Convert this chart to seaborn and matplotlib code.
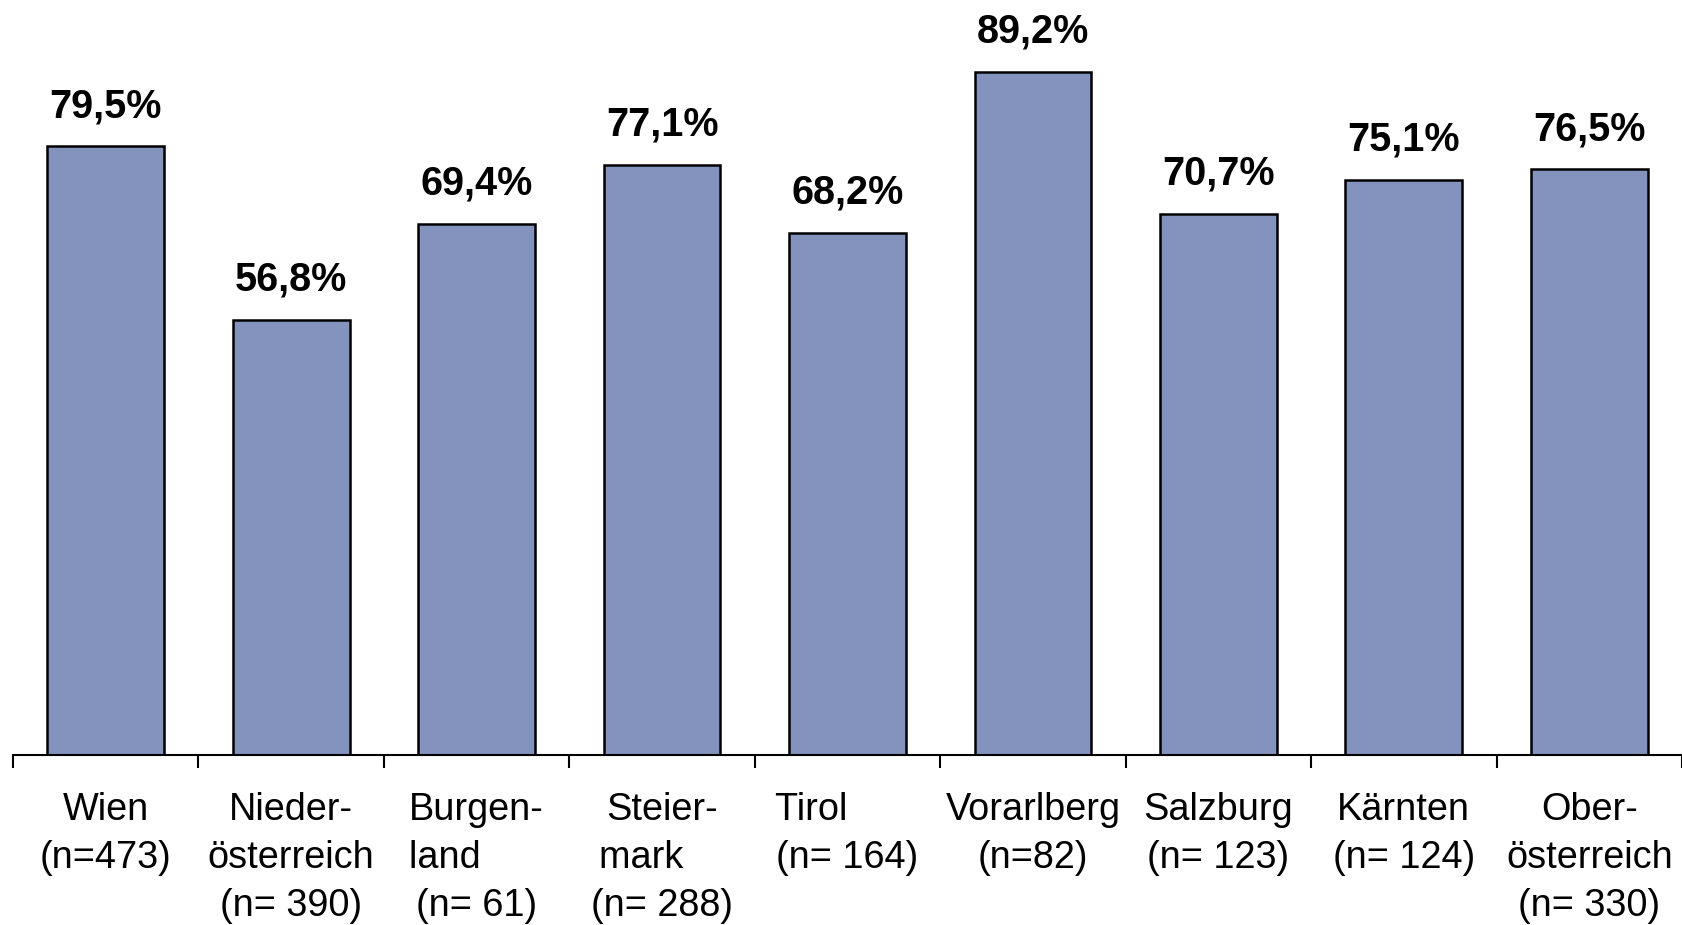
import matplotlib
matplotlib.use("Agg")
import matplotlib.pyplot as plt
import seaborn as sns
import pandas as pd
from matplotlib.ticker import FixedLocator

regions = ["Wien", "Niederösterreich", "Burgenland", "Steiermark", "Tirol",
           "Vorarlberg", "Salzburg", "Kärnten", "Oberösterreich"]
tick_labels = ["Wien\n(n=473)", "Nieder-\nösterreich\n(n= 390)", "Burgen-\nland      \n(n= 61)",
               "Steier-\nmark    \n(n= 288)", "Tirol       \n(n= 164)", "Vorarlberg\n(n=82)",
               "Salzburg\n(n= 123)", "Kärnten\n(n= 124)", "Ober-\nösterreich\n(n= 330)"]
values = [79.5, 56.8, 69.4, 77.1, 68.2, 89.2, 70.7, 75.1, 76.5]

df = pd.DataFrame({"region": regions, "value": values})

sns.set_style("white")
plt.rcParams["font.family"] = ["Liberation Sans", "DejaVu Sans"]
plt.rcParams["text.color"] = "black"
plt.rcParams["xtick.color"] = "black"

fig = plt.figure(figsize=(16.82, 9.25), dpi=100)
ax = fig.add_axes([13/1682, 170/925, 1 - 13/1682, 1 - 170/925])

sns.barplot(data=df, x="region", y="value", color="#8492BE", width=0.63,
            edgecolor="black", linewidth=1.8, saturation=1, ax=ax)

ax.set_xlim(-0.5, len(regions) - 0.5)
ax.set_ylim(0, 98.6)
ax.set_yticks([])
ax.set_xlabel("")
ax.set_ylabel("")
for s in ["top", "right", "left"]:
    ax.spines[s].set_visible(False)
ax.spines["bottom"].set_linewidth(1.5)
ax.spines["bottom"].set_color("black")

ax.set_xticks(range(len(regions)))
ax.set_xticklabels(tick_labels, fontsize=27.3, linespacing=1.42, color="black")
ax.tick_params(axis="x", which="major", length=0, pad=27)
ax.xaxis.set_minor_locator(FixedLocator([i - 0.5 for i in range(len(regions) + 1)]))
ax.tick_params(axis="x", which="minor", length=9, width=1.5, color="black", direction="out", bottom=True)

for i, v in enumerate(values):
    ax.annotate(f"{v:.1f}%".replace(".", ","), (i, v), xytext=(0, 21), textcoords="offset points",
                ha="center", va="baseline", fontsize=28.5, fontweight="bold", color="black")

fig.savefig("out.png", dpi=100)
